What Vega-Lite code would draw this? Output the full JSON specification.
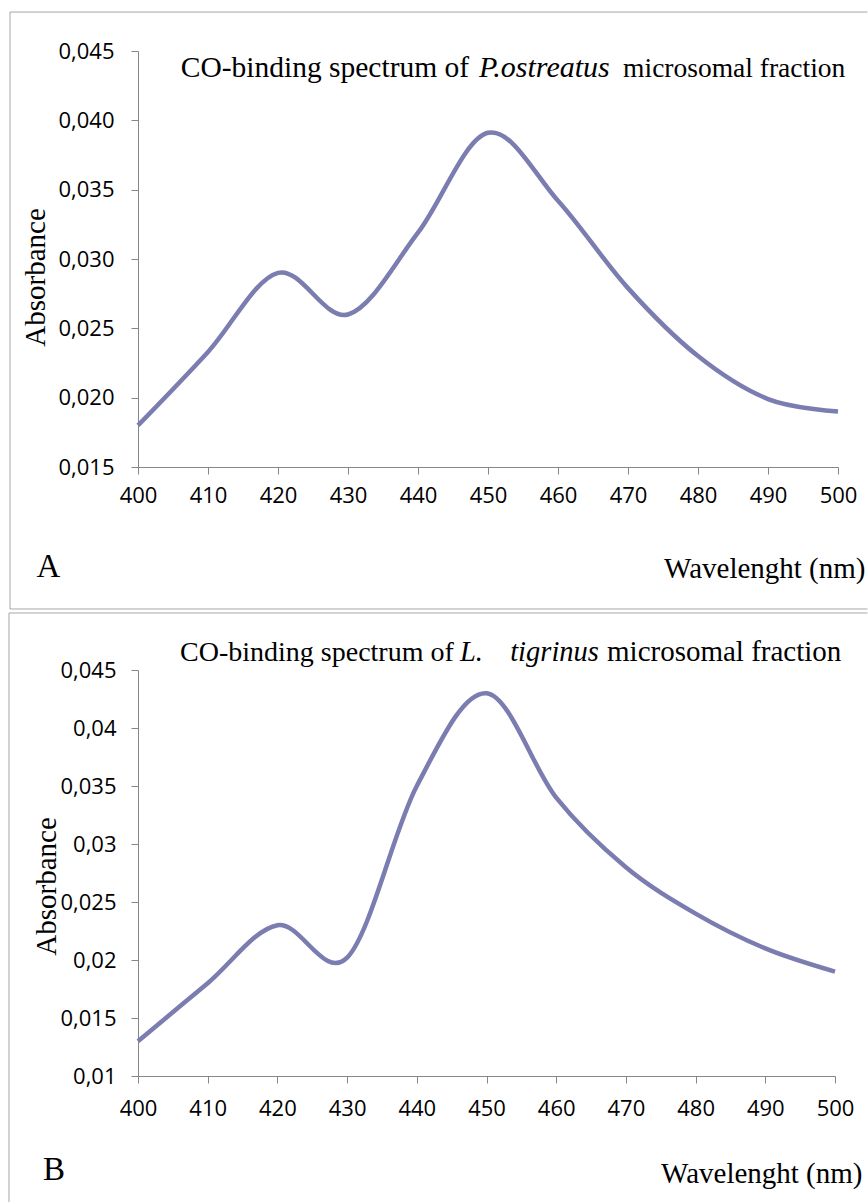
{
  "$schema": "https://vega.github.io/schema/vega-lite/v6.json",
  "background": "white",
  "padding": {"left": 8, "top": 11, "right": 0, "bottom": 0},
  "bounds": "flush",
  "spacing": 203,
  "config": {
    "view": {"stroke": null},
    "axis": {
      "grid": false,
      "domainColor": "#868686",
      "domainWidth": 1,
      "tickColor": "#868686",
      "tickWidth": 1,
      "tickSize": 7,
      "labelFont": "Open Sans",
      "labelFontSize": 22,
      "labelColor": "#000000",
      "titleFont": "Liberation Serif",
      "titleFontSize": 29,
      "titleFontWeight": "normal",
      "titleColor": "#000000"
    },
    "text": {"font": "Liberation Serif", "fontSize": 28, "color": "#000000", "align": "left", "baseline": "alphabetic"},
    "rule": {"color": "#a6a6a6", "strokeWidth": 1}
  },
  "vconcat": [
    {
      "width": 700,
      "height": 416,
      "layer": [
        {
          "data": {
            "values": [
              {"wl": 400, "abs": 0.018},
              {"wl": 410, "abs": 0.0233},
              {"wl": 420, "abs": 0.029},
              {"wl": 430, "abs": 0.026},
              {"wl": 440, "abs": 0.0319},
              {"wl": 450, "abs": 0.0391},
              {"wl": 460, "abs": 0.0342},
              {"wl": 470, "abs": 0.0279},
              {"wl": 480, "abs": 0.023},
              {"wl": 490, "abs": 0.0199},
              {"wl": 500, "abs": 0.019}
            ]
          },
          "mark": {"type": "line", "color": "#7b7db0", "strokeWidth": 4.5, "interpolate": "cardinal"},
          "encoding": {
            "x": {
              "field": "wl", "type": "quantitative",
              "scale": {"domain": [400, 500], "nice": false, "zero": false},
              "axis": {
                "values": [400, 410, 420, 430, 440, 450, 460, 470, 480, 490, 500],
                "labelPadding": 11,
                "labelFlush": false,
                "title": "Wavelenght (nm)",
                "titleX": 727,
                "titleY": 110,
                "titleAlign": "right",
                "titleBaseline": "alphabetic",
                "titleAngle": 0
              }
            },
            "y": {
              "field": "abs", "type": "quantitative",
              "scale": {"domain": [0.015, 0.045], "nice": false, "zero": false},
              "axis": {
                "values": [0.015, 0.02, 0.025, 0.03, 0.035, 0.04, 0.045],
                "labelExpr": "replace(format(datum.value, '.3f'), '.', ',')",
                "labelPadding": 17,
                "labelFlush": false,
                "title": "Absorbance",
                "titleX": -94,
                "titleY": 226,
                "titleAngle": -90,
                "titleAlign": "center",
                "titleBaseline": "alphabetic"
              }
            }
          }
        },
        {
          "data": {"values": [{}]},
          "mark": {"type": "rule", "clip": false},
          "encoding": {
            "x": {"datum": 381.714, "type": "quantitative"},
            "x2": {"datum": 504.21},
            "y": {"datum": 0.04781, "type": "quantitative"}
          }
        },
        {
          "data": {"values": [{}]},
          "mark": {"type": "rule", "clip": false},
          "encoding": {
            "x": {"datum": 381.714, "type": "quantitative"},
            "y": {"datum": 0.04781, "type": "quantitative"},
            "y2": {"datum": 0.00476}
          }
        },
        {
          "data": {"values": [{}]},
          "mark": {"type": "rule", "clip": false},
          "encoding": {
            "x": {"datum": 381.714, "type": "quantitative"},
            "x2": {"datum": 504.21},
            "y": {"datum": 0.00476, "type": "quantitative"}
          }
        },
        {
          "data": {"values": [{}]},
          "mark": {"type": "text", "text": "CO-binding spectrum of", "fontSize": 29.5, "clip": false},
          "encoding": {
            "x": {"datum": 406.1, "type": "quantitative"},
            "y": {"datum": 0.043125, "type": "quantitative"}
          }
        },
        {
          "data": {"values": [{}]},
          "mark": {"type": "text", "text": "P.ostreatus", "fontStyle": "italic", "fontSize": 30, "clip": false},
          "encoding": {
            "x": {"datum": 448.7, "type": "quantitative"},
            "y": {"datum": 0.043125, "type": "quantitative"}
          }
        },
        {
          "data": {"values": [{}]},
          "mark": {"type": "text", "text": "microsomal fraction", "fontSize": 27.5, "clip": false},
          "encoding": {
            "x": {"datum": 469.3, "type": "quantitative"},
            "y": {"datum": 0.043125, "type": "quantitative"}
          }
        },
        {
          "data": {"values": [{}]},
          "mark": {"type": "text", "text": "A", "fontSize": 33, "clip": false},
          "encoding": {
            "x": {"datum": 385.5, "type": "quantitative"},
            "y": {"datum": 0.007067, "type": "quantitative"}
          }
        }
      ]
    },
    {
      "width": 697,
      "height": 406,
      "layer": [
        {
          "data": {
            "values": [
              {"wl": 400, "abs": 0.013},
              {"wl": 410, "abs": 0.018},
              {"wl": 420, "abs": 0.023},
              {"wl": 430, "abs": 0.0202},
              {"wl": 440, "abs": 0.035},
              {"wl": 450, "abs": 0.043},
              {"wl": 460, "abs": 0.034},
              {"wl": 470, "abs": 0.028},
              {"wl": 480, "abs": 0.024},
              {"wl": 490, "abs": 0.021},
              {"wl": 500, "abs": 0.019}
            ]
          },
          "mark": {"type": "line", "color": "#7b7db0", "strokeWidth": 4.5, "interpolate": "cardinal"},
          "encoding": {
            "x": {
              "field": "wl", "type": "quantitative",
              "scale": {"domain": [400, 500], "nice": false, "zero": false},
              "axis": {
                "values": [400, 410, 420, 430, 440, 450, 460, 470, 480, 490, 500],
                "labelPadding": 15,
                "labelFlush": false,
                "title": "Wavelenght (nm)",
                "titleX": 724,
                "titleY": 106,
                "titleAlign": "right",
                "titleBaseline": "alphabetic",
                "titleAngle": 0
              }
            },
            "y": {
              "field": "abs", "type": "quantitative",
              "scale": {"domain": [0.01, 0.045], "nice": false, "zero": false},
              "axis": {
                "values": [0.01, 0.015, 0.02, 0.025, 0.03, 0.035, 0.04, 0.045],
                "labelExpr": "replace(format(datum.value, '.3~f'), '.', ',')",
                "labelPadding": 15,
                "labelFlush": false,
                "title": "Absorbance",
                "titleX": -83,
                "titleY": 216,
                "titleAngle": -90,
                "titleAlign": "center",
                "titleBaseline": "alphabetic"
              }
            }
          }
        },
        {
          "data": {"values": [{}]},
          "mark": {"type": "rule", "clip": false},
          "encoding": {
            "x": {"datum": 381.49, "type": "quantitative"},
            "x2": {"datum": 504.66},
            "y": {"datum": 0.049914, "type": "quantitative"}
          }
        },
        {
          "data": {"values": [{}]},
          "mark": {"type": "rule", "clip": false},
          "encoding": {
            "x": {"datum": 381.49, "type": "quantitative"},
            "y": {"datum": 0.049914, "type": "quantitative"},
            "y2": {"datum": -0.000862}
          }
        },
        {
          "data": {"values": [{}]},
          "mark": {"type": "text", "text": "CO-binding spectrum of", "clip": false},
          "encoding": {
            "x": {"datum": 406.03, "type": "quantitative"},
            "y": {"datum": 0.045776, "type": "quantitative"}
          }
        },
        {
          "data": {"values": [{}]},
          "mark": {"type": "text", "text": "L.", "fontStyle": "italic", "fontSize": 28.5, "clip": false},
          "encoding": {
            "x": {"datum": 446.2, "type": "quantitative"},
            "y": {"datum": 0.045776, "type": "quantitative"}
          }
        },
        {
          "data": {"values": [{}]},
          "mark": {"type": "text", "text": "tigrinus", "fontStyle": "italic", "fontSize": 28.5, "clip": false},
          "encoding": {
            "x": {"datum": 453.4, "type": "quantitative"},
            "y": {"datum": 0.045776, "type": "quantitative"}
          }
        },
        {
          "data": {"values": [{}]},
          "mark": {"type": "text", "text": "microsomal fraction", "fontSize": 29, "clip": false},
          "encoding": {
            "x": {"datum": 467.29, "type": "quantitative"},
            "y": {"datum": 0.045776, "type": "quantitative"}
          }
        },
        {
          "data": {"values": [{}]},
          "mark": {"type": "text", "text": "B", "fontSize": 33, "clip": false},
          "encoding": {
            "x": {"datum": 386.37, "type": "quantitative"},
            "y": {"datum": 0.001034, "type": "quantitative"}
          }
        }
      ]
    }
  ]
}
